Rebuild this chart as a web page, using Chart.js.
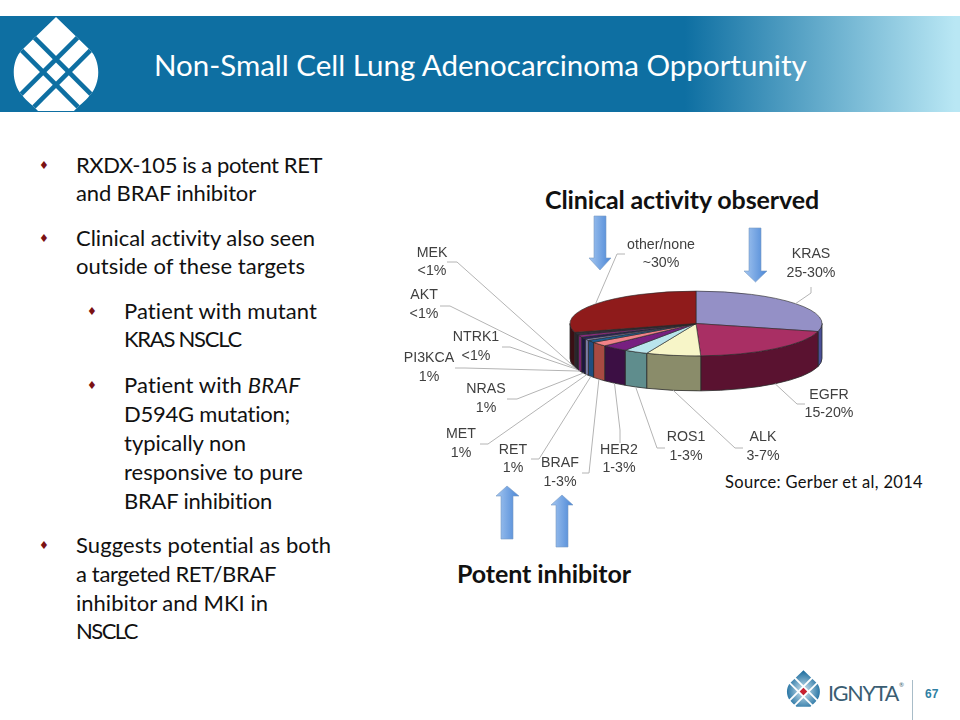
<!DOCTYPE html>
<html>
<head>
<meta charset="utf-8">
<title>Non-Small Cell Lung Adenocarcinoma Opportunity</title>
<script src="https://cdn.jsdelivr.net/npm/chart.js@4/dist/chart.umd.min.js"></script>
<style>
  html, body { margin: 0; padding: 0; background: #fff; }
  #slide { position: relative; width: 960px; height: 720px; overflow: hidden; font-family: Lato, sans-serif; font-variant-ligatures: none; color: #111; }
  #slide div, #slide svg, #slide canvas { position: absolute; }
  #band { left: 0; top: 16px; width: 960px; height: 96px; background: linear-gradient(to right, #0e6fa2 0, #0e6fa2 685px, #b9e7f4 955px); }
  #title { left: 154px; top: 47px; font-size: 29.5px; color: #fff; white-space: nowrap; }
  .line { font-size: 22px; line-height: 28px; white-space: nowrap; }
  .dot { font-family: "DejaVu Sans"; font-size: 11px; line-height: 28px; color: #7b1113; }
  .big { font-size: 25px; font-weight: 700; color: #111; white-space: nowrap; }
  #source { left: 725px; top: 472px; font-size: 16.5px; white-space: nowrap; }
  #brand { left: 828px; top: 680px; font-size: 21.5px; color: #3a5d72; white-space: nowrap; }
  #reg { left: 899px; top: 681px; font-size: 6px; color: #3a5d72; }
  #pageNo { left: 925px; top: 687px; font: bold 12px "Liberation Sans"; color: #2f7fa3; }
  #rule { left: 912px; top: 680px; width: 1px; height: 40px; background: #a8bcc8; }
</style>
</head>
<body>
<div id="slide">
  <div id="band"></div>
  <svg width="130" height="112" style="left:0;top:0">
    <clipPath id="drop"><path d="M56 17 L22 50 C11 61 11 83 22 95 C27 102 34 106 38 111 L74 111 C78 106 85 102 90 95 C101 83 101 61 90 50 Z"/></clipPath>
    <g clip-path="url(#drop)">
      <rect x="0" y="0" width="130" height="112" fill="#fff"/>
      <g transform="translate(56 72) rotate(45)" fill="#0e6fa2">
        <rect x="-100" y="-11.400" width="200" height="4.600"/>
        <rect x="-100" y="6.800" width="200" height="4.600"/>
        <rect x="-11.400" y="-100" width="4.600" height="200"/>
        <rect x="6.800" y="-100" width="4.600" height="200"/>
      </g>
    </g>
  </svg>
  <div id="title">Non-Small Cell Lung Adenocarcinoma Opportunity</div>

  <div class="dot" style="left:39px;top:152px">♦</div>
  <div class="line" style="left:76px;top:151px" data-end="322">RXDX-105 is a potent RET</div>
  <div class="line" style="left:76px;top:179px" data-end="256">and BRAF inhibitor</div>
  <div class="dot" style="left:39px;top:225px">♦</div>
  <div class="line" style="left:76px;top:224px" data-end="315">Clinical activity also seen</div>
  <div class="line" style="left:76px;top:252px" data-end="305">outside of these targets</div>
  <div class="dot" style="left:87px;top:298px">♦</div>
  <div class="line" style="left:124px;top:297px" data-end="317">Patient with mutant</div>
  <div class="line" style="left:124px;top:325px" data-end="241">KRAS NSCLC</div>
  <div class="dot" style="left:87px;top:372px">♦</div>
  <div class="line" style="left:124px;top:371px" data-end="300">Patient with <i>BRAF</i></div>
  <div class="line" style="left:124px;top:400px" data-end="290">D594G mutation;</div>
  <div class="line" style="left:124px;top:429px" data-end="246">typically non</div>
  <div class="line" style="left:124px;top:458px" data-end="303">responsive to pure</div>
  <div class="line" style="left:124px;top:487px" data-end="272">BRAF inhibition</div>
  <div class="dot" style="left:39px;top:532px">♦</div>
  <div class="line" style="left:76px;top:531px" data-end="331">Suggests potential as both</div>
  <div class="line" style="left:76px;top:560px" data-end="276">a targeted RET/BRAF</div>
  <div class="line" style="left:76px;top:589px" data-end="268">inhibitor and MKI in</div>
  <div class="line" style="left:76px;top:617px" data-end="137">NSCLC</div>

  <div class="big" style="left:545px;top:184px" data-end="819">Clinical activity observed</div>
  <div class="big" style="left:457px;top:558px" data-end="631">Potent inhibitor</div>
  <div id="source" data-end="923">Source: Gerber et al, 2014</div>

  <svg width="960" height="720" style="left:0;top:0">
    <defs>
      <linearGradient id="arrowFill" x1="0" x2="1" y1="0" y2="0">
        <stop offset="0" stop-color="#a4c6f0"/>
        <stop offset="1" stop-color="#4a86d6"/>
      </linearGradient>
      <radialGradient id="markFill" cx="0.5" cy="0.57" r="0.55">
        <stop offset="0" stop-color="#d6eaf3"/>
        <stop offset="1" stop-color="#1b6c9e"/>
      </radialGradient>
    </defs>
    <g fill="url(#arrowFill)" stroke="#7b9cc4" stroke-width="0.6">
      <path d="M594 216 H606 V258 H611 L600 270 L589 258 H594 Z"/>
      <path d="M749 228 H761 V271 H767 L755.500 282 L744 271 H749 Z"/>
      <path d="M501 539 H513 V496 H519 L507 486 L496 496 H501 Z"/>
      <path d="M556 547 H568 V505 H573 L562 495 L551 505 H556 Z"/>
    </g>
    <g transform="translate(781.600 663.500) scale(0.39)">
      <path fill="url(#markFill)" d="M56 17 L22 50 C11 61 11 83 22 95 C27 102 34 106 38 111 L74 111 C78 106 85 102 90 95 C101 83 101 61 90 50 Z"/>
      <g transform="translate(56 72) rotate(45)">
        <g fill="#fff">
          <rect x="-100" y="-11.400" width="200" height="4.600"/>
          <rect x="-100" y="6.800" width="200" height="4.600"/>
          <rect x="-11.400" y="-100" width="4.600" height="200"/>
          <rect x="6.800" y="-100" width="4.600" height="200"/>
        </g>
        <rect x="-6.800" y="-6.800" width="13.600" height="13.600" fill="#c8202f"/>
      </g>
    </g>
  </svg>
  <div id="brand" data-end="898">IGNYTA</div>
  <div id="reg">®</div>
  <div id="rule"></div>
  <div id="pageNo">67</div>

  <canvas id="pie" width="960" height="720" style="left:0;top:0"></canvas>
</div>

<script>
//slice names, clockwise from the top of the pie
const categories = ["KRAS", "EGFR", "ALK", "ROS1", "HER2", "BRAF", "RET", "MET", "NRAS", "PI3KCA", "NTRK1", "AKT", "MEK", "other/none"];

//share of the pie (%)
const shares = [29, 20.4, 7, 3.1, 3.4, 2.2, 1.2, 0.8, 1, 1.1, 0.5, 0.5, 0.4, 29.4];

//the second line of each label
const shareLabels = ["25-30%", "15-20%", "3-7%", "1-3%", "1-3%", "1-3%", "1%", "1%", "1%", "1%", "<1%", "<1%", "<1%", "~30%"];

const topColors = ["#9490c6", "#a92f64", "#f7f5c8", "#b9e4ec", "#772080", "#f28288", "#1f5c92", "#8a88b6", "#2b2060", "#8e2b82", "#30204a", "#3a2a50", "#241a30", "#8f1b1b"];
const sideColors = ["#4a5098", "#5a1230", "#8a8c6a", "#5f8d8d", "#3c0f44", "#a84a42", "#1f4e80", "#7e7ca6", "#1c1640", "#7a2070", "#241830", "#241830", "#1c1420", "#3a0f14"];

//where each label goes: text centre, first line y, second line y, then the leader start and elbow
const labelSpots = [
  [811, 254, 273, 811, 287, 811, 293],
  [829, 395, 413, 805, 404, 797, 404],
  [763, 437, 456, 743, 448, 735, 448],
  [686, 437, 456, 665, 448, 657, 448],
  [619, 450, 468, 620, 443, 620, 430],
  [560, 463, 482, 582, 473, 589, 473],
  [513, 450, 468, 531, 459, 539, 459],
  [461, 434, 453, 480, 444, 488, 444],
  [486, 389, 408, 507, 399, 517, 399],
  [429, 358, 377, 455, 368, 465, 368],
  [476, 337, 356, 502, 347, 510, 347],
  [424, 295, 314, 440, 306, 450, 306],
  [432, 253, 271, 447, 262, 457, 262],
  [661, 245, 263, 625, 254, 617, 254]
];

const squash = 0.257; //height of the tilted pie against its width
const depth = 35; //height of the side wall

//stretch each line of slide text to end where it ends on the slide
document.querySelectorAll("[data-end]").forEach(el => {
  const box = el.getBoundingClientRect();
  const extra = el.dataset.end - box.right;
  el.style.letterSpacing = (extra / el.textContent.length) + "px";
});

//the library only draws flat pies, so tilt them and add the wall here
const tiltedPie = {
  id: "tiltedPie",

  beforeDatasetsDraw(chart) {
    const ctx = chart.ctx;
    const arcs = chart.getDatasetMeta(0).data;

    //only the front half of the wall can be seen
    arcs.forEach((arc, i) => {
      const from = Math.max(arc.startAngle, 0);
      const to = Math.min(arc.endAngle, Math.PI);
      if (from >= to) {
        return;
      }
      const ry = arc.outerRadius * squash;
      ctx.beginPath();
      ctx.ellipse(arc.x, arc.y, arc.outerRadius, ry, 0, from, to);
      ctx.ellipse(arc.x, arc.y + depth, arc.outerRadius, ry, 0, to, from, true);
      ctx.closePath();
      ctx.fillStyle = sideColors[i];
      ctx.strokeStyle = "#2a2a2a";
      ctx.lineWidth = 0.8;
      ctx.fill();
      ctx.stroke();
    });

    const first = arcs[0];
    ctx.save();
    ctx.translate(first.x, first.y);
    ctx.scale(1, squash);
    ctx.translate(-first.x, -first.y);
  },

  afterDatasetsDraw(chart) {
    const ctx = chart.ctx;
    ctx.restore();

    //leader lines and labels
    chart.getDatasetMeta(0).data.forEach((arc, i) => {
      const spot = labelSpots[i];
      const mid = (arc.startAngle + arc.endAngle) / 2;
      const tipX = arc.x + arc.outerRadius * Math.cos(mid);
      let tipY = arc.y + arc.outerRadius * squash * Math.sin(mid);
      if (Math.sin(mid) > 0) {
        tipY += depth;
      }

      ctx.beginPath();
      ctx.moveTo(spot[3], spot[4]);
      ctx.lineTo(spot[5], spot[6]);
      ctx.lineTo(tipX, tipY);
      ctx.strokeStyle = "#b4b4b4";
      ctx.lineWidth = 1;
      ctx.stroke();

      ctx.fillStyle = "#3f3f3f";
      ctx.font = "14.2px 'Liberation Sans'";
      ctx.textAlign = "center";
      ctx.textBaseline = "middle";
      ctx.fillText(chart.data.labels[i], spot[0], spot[1]);
      ctx.fillText(shareLabels[i], spot[0], spot[2]);
    });
  }
};

new Chart(document.getElementById("pie"), {
  type: "pie",
  data: {
    labels: categories,
    datasets: [{
      data: shares,
      backgroundColor: topColors,
      borderColor: "#2a2a2a",
      borderWidth: 1
    }]
  },
  options: {
    responsive: false,
    animation: false,
    //these paddings put the pie's centre at 696, 323.5
    layout: { padding: { left: 569.5, right: 137.5, top: 197, bottom: 270 } },
    plugins: {
      legend: { display: false },
      tooltip: { enabled: false }
    }
  },
  plugins: [tiltedPie]
});
</script>
</body>
</html>
